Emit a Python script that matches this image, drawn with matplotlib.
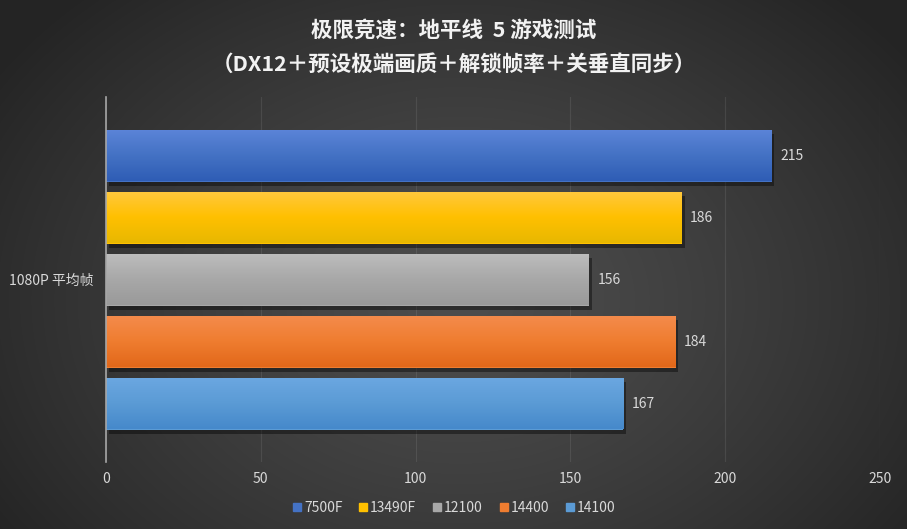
import numpy as np
import matplotlib
matplotlib.use("Agg")
import matplotlib.pyplot as plt
from matplotlib import patheffects as pe
from matplotlib.colors import LinearSegmentedColormap
from matplotlib.lines import Line2D

plt.rcParams['font.family'] = ['Noto Sans CJK SC', 'DejaVu Sans']

# Data
title = "极限竞速：地平线  5 游戏测试\n（DX12＋预设极端画质＋解锁帧率＋关垂直同步）"
category = "1080P 平均帧"
cpus = ["7500F", "13490F", "12100", "14400", "14100"]
fps = [215, 186, 156, 184, 167]
xticks = [0, 50, 100, 150, 200, 250]

# bar colours: top, middle, bottom of the gradient
bar_cols = [
    ("#5b84d8", "#4472c4", "#2f5db5"),
    ("#ffc83e", "#ffc000", "#e8b800"),
    ("#bdbdbd", "#a8a8a8", "#9a9a9a"),
    ("#f48b4c", "#ef7d30", "#e2681a"),
    ("#6ba7e1", "#5b9bd5", "#4689cb"),
]
legend_cols = [c[1] for c in bar_cols]

fig = plt.figure(figsize=(9.07, 5.29), dpi=100)

# radial background
bg = fig.add_axes([0, 0, 1, 1], zorder=-10)
yy, xx = np.mgrid[0:529, 0:907]
r = np.sqrt(((xx - 460) / 560.0) ** 2 + ((yy - 300) / 420.0) ** 2)
r = np.clip(r, 0, 1)
light, dark = 0x4d / 255, 0x24 / 255
img = light + (dark - light) * r ** 1.3
bg.imshow(np.dstack([img, img, img]), aspect="auto", extent=[0, 1, 0, 1])
bg.set_axis_off()

ax = fig.add_axes([106 / 907, (529 - 462) / 529, 774 / 907, 365 / 529])
ax.patch.set_alpha(0)

ypos = np.arange(len(cpus))
height = 52 / 62
for i, (v, cols) in enumerate(zip(fps, bar_cols)):
    bar = ax.barh(ypos[i], v, height=height, color=cols[1], zorder=3,
                  path_effects=[pe.SimplePatchShadow(offset=(2, -3), shadow_rgbFace="black", alpha=0.4),
                                pe.Normal()])[0]
    cmap = LinearSegmentedColormap.from_list("g", list(cols))
    grad = np.linspace(0, 1, 64).reshape(-1, 1)
    im = ax.imshow(grad, cmap=cmap, aspect="auto", zorder=4,
                   extent=[0, v, ypos[i] + height / 2, ypos[i] - height / 2])
    im.set_clip_path(bar)
    ax.text(v + 2.7, ypos[i], str(v), va="center", ha="left",
            color="#d9d9d9", fontsize=10, zorder=5)

ax.set_xlim(0, 250)
ax.set_ylim(2 + 182.5 / 62, 2 - 182.5 / 62)
ax.set_xticks(xticks)
ax.set_yticks([2])
ax.set_yticklabels([category])
ax.tick_params(axis="both", length=0, colors="#d9d9d9", labelsize=10)
ax.tick_params(axis="y", pad=9)
ax.tick_params(axis="x", pad=7)
ax.grid(axis="x", color="#bfbfbf", alpha=0.13, linewidth=0.8, zorder=0)
for s in ["top", "right", "bottom"]:
    ax.spines[s].set_visible(False)
ax.spines["left"].set_color("#a6a6a6")
ax.spines["left"].set_linewidth(1.2)
ax.spines["left"].set_zorder(6)

fig.text(0.5, 1 - 47 / 529, title, ha="center", va="center", color="#f2f2f2",
         fontsize=15.5, fontweight="bold", linespacing=1.8)

handles = [Line2D([], [], marker="s", linestyle="", markersize=6, color=c) for c in legend_cols]
fig.legend(handles, cpus, loc="center", bbox_to_anchor=(0.5, 1 - 508 / 529), ncol=5,
           frameon=False, fontsize=10, labelcolor="#d9d9d9", handletextpad=0.1,
           columnspacing=1.1, handlelength=0.8)

fig.savefig("out.png", dpi=100)
